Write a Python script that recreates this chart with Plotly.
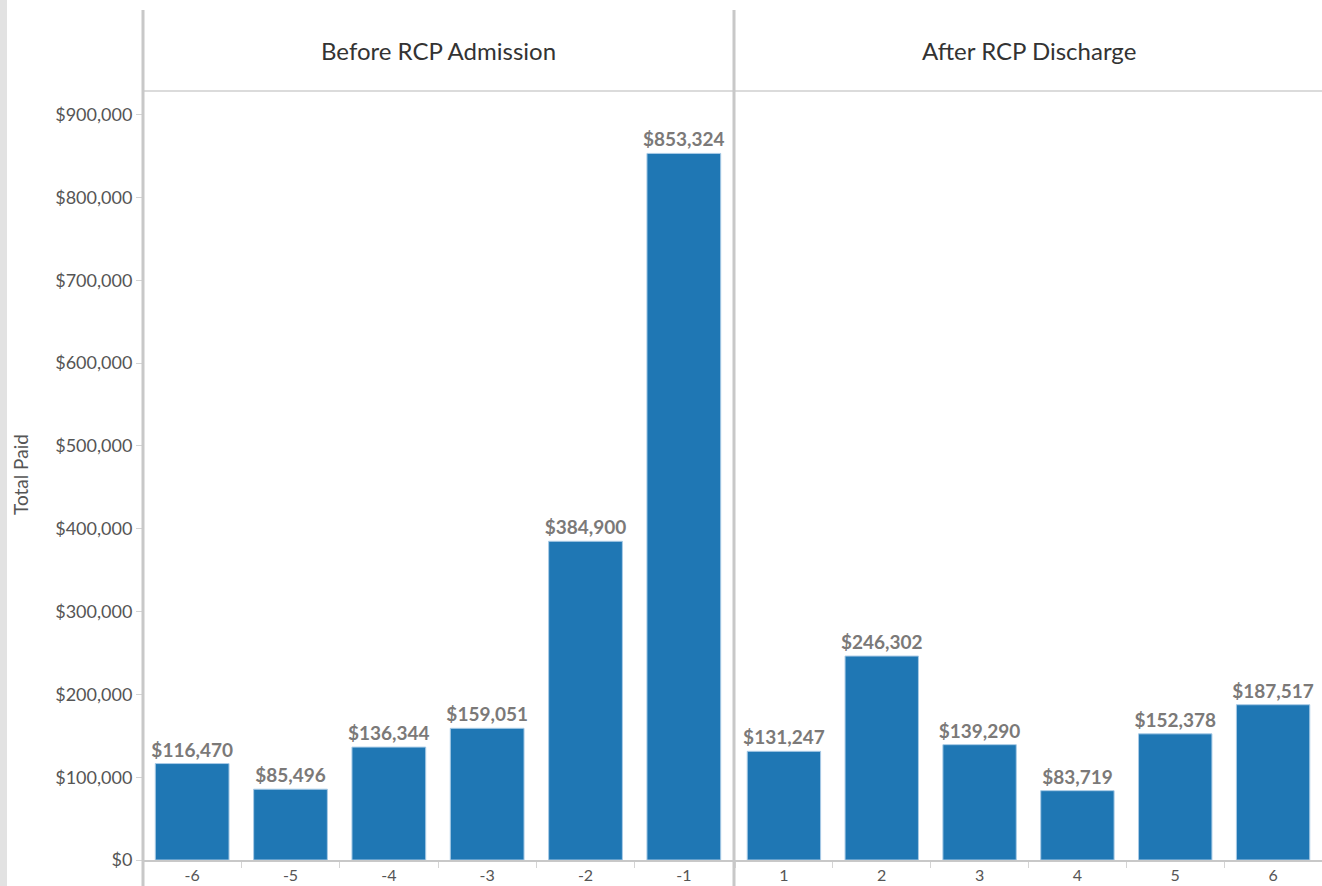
import plotly.graph_objects as go

# Months relative to the RCP stay and the total paid in each month
before_months = ["-6", "-5", "-4", "-3", "-2", "-1"]
before_paid = [116470, 85496, 136344, 159051, 384900, 853324]

after_months = ["1", "2", "3", "4", "5", "6"]
after_paid = [131247, 246302, 139290, 83719, 152378, 187517]

panel_titles = ["Before RCP Admission", "After RCP Discharge"]
y_ticks = [0, 100000, 200000, 300000, 400000, 500000, 600000, 700000, 800000, 900000]

BAR = "#1f77b4"
LABEL = "#7b7978"
GRID = "#c8c8c8"
FONT = "Lato, 'Open Sans', sans-serif"

W, H = 1322, 886
L, R, T, B = 143, 0, 92, 26
plot_w = W - L - R
p1_end = 590 / plot_w
p2_start = 592 / plot_w


def money(v):
    return "${:,}".format(v)


fig = go.Figure()
for months, paid, xa in [(before_months, before_paid, "x"), (after_months, after_paid, "x2")]:
    fig.add_trace(go.Bar(
        x=months, y=paid, xaxis=xa, yaxis="y",
        marker=dict(color=BAR, line=dict(color="#a9cbe6", width=1)),
        text=[money(v) for v in paid], textposition="outside",
        constraintext="none",
        textfont=dict(family=FONT, size=19, color=LABEL, weight="bold"),
        cliponaxis=False, showlegend=False, hoverinfo="skip",
    ))

axis_common = dict(
    type="category", showgrid=False, zeroline=False,
    showline=True, linecolor=GRID, linewidth=2,
    ticks="outside", tickson="boundaries", ticklen=6, tickcolor="#d4d4d4",
    tickfont=dict(family=FONT, size=16, color="#555555"),
    fixedrange=True,
)

fig.update_layout(
    width=W, height=H,
    margin=dict(l=L, r=R, t=T, b=B, autoexpand=False),
    paper_bgcolor="white", plot_bgcolor="white",
    bargap=0.25,
    font=dict(family=FONT, color="#555555"),
    xaxis=dict(domain=[0, p1_end], anchor="y", **axis_common),
    xaxis2=dict(domain=[p2_start, 1], anchor="y", **axis_common),
    yaxis=dict(
        range=[0, 927500], tickvals=y_ticks,
        ticktext=[money(v) for v in y_ticks],
        showgrid=False, zeroline=False, showline=False,
        ticks="outside", ticklen=6, tickcolor="#d4d4d4",
        tickfont=dict(family=FONT, size=18, color="#555555"),
        fixedrange=True,
    ),
)

# Axis title
fig.add_annotation(
    text="Total Paid", xref="paper", yref="paper",
    x=(20 - L) / plot_w, y=(860 - 475) / (860 - T),
    xanchor="center", yanchor="middle",
    showarrow=False, textangle=-90,
    font=dict(family=FONT, size=19, color="#555555"),
)

# Panel headers
header_y = (860 - 50) / (860 - T)
centers = [p1_end / 2, (p2_start + 1) / 2]
for title, cx in zip(panel_titles, centers):
    fig.add_annotation(
        text=title, xref="paper", yref="paper", x=cx, y=header_y,
        xanchor="center", yanchor="middle",
        showarrow=False, font=dict(family=FONT, size=24, color="#333333"),
    )

top_y = (860 - 10) / (860 - T)
bottom_y = (860 - 886) / (860 - T)
hdr_line_y = (860 - 91) / (860 - T)
mid_x = (734 - L) / plot_w

shapes = [
    # grey strip on the far left
    dict(type="rect", xref="paper", yref="paper", x0=-L / plot_w, x1=(7 - L) / plot_w,
         y0=bottom_y, y1=top_y + 0.05, fillcolor="#e2e2e2", line=dict(width=0), layer="below"),
    # header divider
    dict(type="line", xref="paper", yref="paper", x0=0, x1=1, y0=hdr_line_y, y1=hdr_line_y,
         line=dict(color="#cfcfcf", width=1.5)),
    # left frame line
    dict(type="line", xref="paper", yref="paper", x0=0, x1=0, y0=bottom_y, y1=top_y,
         line=dict(color=GRID, width=3)),
    # panel separator
    dict(type="line", xref="paper", yref="paper", x0=mid_x, x1=mid_x, y0=bottom_y, y1=top_y,
         line=dict(color=GRID, width=3)),
]
fig.update_layout(shapes=shapes)

fig.write_html("out.html")
